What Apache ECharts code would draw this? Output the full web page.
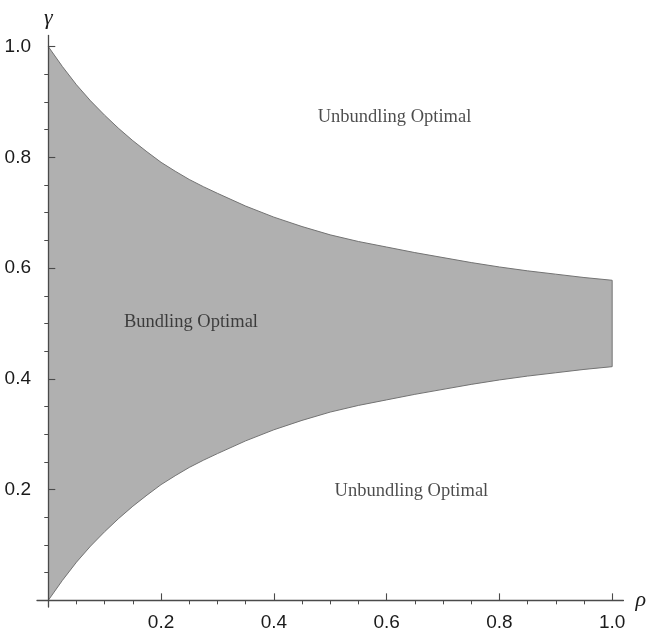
<!DOCTYPE html>
<html>
<head>
<meta charset="utf-8">
<script src="https://cdn.jsdelivr.net/npm/echarts@6/dist/echarts.min.js"></script>
<style>
html,body{margin:0;padding:0;background:#fff;}
#chart{width:649px;height:632px;}
</style>
</head>
<body>
<div id="chart"></div>
<script>
// ---- data ----
const rho        = [0, 0.025, 0.05, 0.075, 0.1, 0.125, 0.15, 0.175, 0.2, 0.225, 0.25, 0.275, 0.3, 0.35, 0.4, 0.45, 0.5, 0.55, 0.6, 0.65, 0.7, 0.75, 0.8, 0.85, 0.9, 0.95, 1.0];
const upperGamma = [1.000, 0.964, 0.931, 0.902, 0.876, 0.852, 0.830, 0.810, 0.791, 0.775, 0.760, 0.747, 0.735, 0.712, 0.692, 0.675, 0.660, 0.648, 0.638, 0.628, 0.619, 0.610, 0.602, 0.595, 0.589, 0.583, 0.578];
const lowerGamma = [0.000, 0.036, 0.069, 0.098, 0.124, 0.148, 0.170, 0.190, 0.209, 0.225, 0.240, 0.253, 0.265, 0.288, 0.308, 0.325, 0.340, 0.352, 0.362, 0.372, 0.381, 0.390, 0.398, 0.405, 0.411, 0.417, 0.422];

const majorTicks = [0.2, 0.4, 0.6, 0.8, 1.0];
const minorTicks = [0.05, 0.1, 0.15, 0.25, 0.3, 0.35, 0.45, 0.5, 0.55, 0.65, 0.7, 0.75, 0.85, 0.9, 0.95];

const regionNames = ['Unbundling Optimal', 'Bundling Optimal', 'Unbundling Optimal'];
const regionRho   = [0.614, 0.253, 0.644];
const regionGamma = [0.873, 0.502, 0.197];

// ---- build series data ----
const labelData = regionNames.map((n, i) => ({ name: n, value: [regionRho[i], regionGamma[i]] }));

const axisColor = '#4a4a4a';
const curveColor = '#737373';
const tickFont = { fontFamily: 'Liberation Sans', fontSize: 19, color: '#1a1a1a' };

function renderBand(params, api) {
  const up = rho.map((r, i) => api.coord([r, upperGamma[i]]));
  const lo = rho.map((r, i) => api.coord([r, lowerGamma[i]]));
  const poly = up.concat(lo.slice().reverse());
  const last = rho.length - 1;
  return {
    type: 'group',
    children: [
      { type: 'polygon', shape: { points: poly }, style: { fill: '#b0b0b0', stroke: null } },
      { type: 'polyline', shape: { points: up }, style: { fill: null, stroke: curveColor, lineWidth: 1 } },
      { type: 'polyline', shape: { points: lo }, style: { fill: null, stroke: curveColor, lineWidth: 1 } },
      { type: 'line', shape: { x1: up[last][0], y1: up[last][1], x2: lo[last][0], y2: lo[last][1] },
        style: { stroke: curveColor, lineWidth: 1 } }
    ]
  };
}

const chart = echarts.init(document.getElementById('chart'), null, { renderer: 'canvas' });
chart.setOption({
  animation: false,
  backgroundColor: '#ffffff',
  grid: { left: 37, right: 25, top: 35.5, bottom: 16, containLabel: false },
  xAxis: [
    {
      type: 'value', min: -0.02, max: 1.02, z: 5,
      name: 'ρ', nameLocation: 'end', nameGap: 12,
      nameTextStyle: { fontFamily: 'Liberation Serif', fontStyle: 'italic', fontSize: 22, color: '#1a1a1a' },
      axisLine: { show: true, onZero: true, onZeroAxisIndex: 0, lineStyle: { color: axisColor, width: 1.3 } },
      axisTick: { show: true, inside: true, length: 7, customValues: majorTicks, lineStyle: { color: axisColor, width: 1.1 } },
      axisLabel: Object.assign({ show: true, margin: 6, customValues: majorTicks, formatter: v => v.toFixed(1) }, tickFont),
      splitLine: { show: false }
    },
    {
      type: 'value', min: -0.02, max: 1.02, z: 5,
      axisLine: { show: false, onZero: true, onZeroAxisIndex: 0 },
      axisTick: { show: true, inside: true, length: 4, customValues: minorTicks, lineStyle: { color: axisColor, width: 1 } },
      axisLabel: { show: false },
      splitLine: { show: false }
    }
  ],
  yAxis: [
    {
      type: 'value', min: -0.012, max: 1.02, z: 5,
      name: 'γ', nameLocation: 'end', nameGap: 6,
      nameTextStyle: { fontFamily: 'Liberation Serif', fontStyle: 'italic', fontSize: 22, color: '#1a1a1a', align: 'center' },
      axisLine: { show: true, onZero: true, onZeroAxisIndex: 0, lineStyle: { color: axisColor, width: 1.3 } },
      axisTick: { show: true, inside: true, length: 7, customValues: majorTicks, lineStyle: { color: axisColor, width: 1.1 } },
      axisLabel: Object.assign({ show: true, margin: 6, customValues: majorTicks, formatter: v => v.toFixed(1) }, tickFont),
      splitLine: { show: false }
    },
    {
      type: 'value', min: -0.012, max: 1.02, z: 5,
      axisLine: { show: false, onZero: true, onZeroAxisIndex: 0 },
      axisTick: { show: true, inside: true, length: 4, customValues: minorTicks, lineStyle: { color: axisColor, width: 1 } },
      axisLabel: { show: false },
      splitLine: { show: false }
    }
  ],
  series: [
    {
      type: 'custom', name: 'band', xAxisIndex: 0, yAxisIndex: 0,
      data: [[rho[0], lowerGamma[0]]],
      renderItem: renderBand,
      silent: true, z: 2
    },
    {
      type: 'scatter', name: 'labels', data: labelData,
      xAxisIndex: 0, yAxisIndex: 0,
      symbolSize: 0,
      label: {
        show: true, position: 'inside', formatter: p => p.name,
        fontFamily: 'Liberation Serif', fontSize: 18.5, color: '#1e1e1e'
      },
      z: 6
    }
  ]
});
</script>
</body>
</html>
